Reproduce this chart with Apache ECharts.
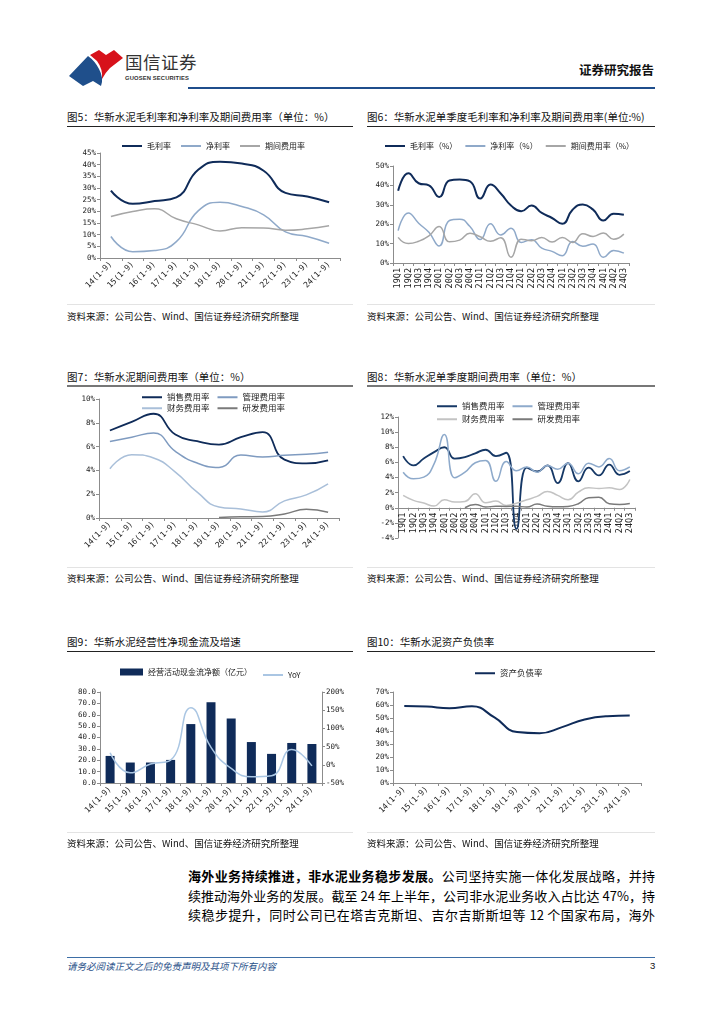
<!DOCTYPE html>
<html><head><meta charset="utf-8">
<script src="https://cdn.jsdelivr.net/npm/echarts@6/dist/echarts.min.js"></script>
<style>
body{margin:0;background:#fff;font-family:"Noto Sans CJK SC","Liberation Sans",sans-serif;}
#page{position:relative;width:724px;height:1024px;overflow:hidden;background:#fff;}
.abs{position:absolute;}
.title{font-size:10.5px;color:#111;white-space:nowrap;line-height:14px;}
.uline{height:1px;background:#222;}
.uline2{height:1.5px;background:#777;}
.sep{height:1px;background:#e3e3e3;}
.src{font-size:9.5px;color:#111;white-space:nowrap;line-height:12px;font-family:"Noto Sans CJK SC","Liberation Sans",sans-serif;}
.ch{position:absolute;}
.body{font-size:13px;line-height:19.5px;color:#000;width:467px;}
.body div{text-align:justify;text-align-last:justify;white-space:nowrap;}
</style>
</head><body>
<div id="page">
  <svg class="abs" style="left:0;top:0" width="200" height="95">
    <path d="M69,76 L88,56 Q95,61 99,69 Q104,78 101,86 L93,81 L83,86 Z" fill="#1f4f8b"/>
    <path d="M90,55 L99,50 L106,55 L114,50 L123,58 L110,68 Q105,73 102,79 Q103,69 97,61 Z" fill="#d7121b"/>
  </svg>
  <div class="abs" style="left:125px;top:51px;font-size:17.5px;color:#333;letter-spacing:0.5px;line-height:22px;">国信证券</div>
  <div class="abs" style="left:125px;top:75px;font-size:5.8px;color:#333;font-weight:bold;font-family:'Liberation Sans',sans-serif;line-height:7px;letter-spacing:0.15px;">GUOSEN SECURITIES</div>
  <div class="abs" style="left:579px;top:62px;font-size:12.5px;font-weight:bold;color:#111;line-height:16px;">证券研究报告</div>
  <div class="abs" style="left:188px;top:87px;width:467px;height:2px;background:#1f4e8c"></div>

  <div class="abs title" style="left:67px;top:110px;">图5：华新水泥毛利率和净利率及期间费用率（单位：%）</div>
  <div class="abs uline" style="left:67px;top:125.5px;width:286px;"></div>
  <div class="abs title" style="left:367px;top:110px;">图6：华新水泥单季度毛利率和净利率及期间费用率(单位:%)</div>
  <div class="abs uline" style="left:367px;top:125.5px;width:288px;"></div>
  <div id="c5" class="ch" style="left:62px;top:130px;width:295px;height:172px;"></div>
  <div id="c6" class="ch" style="left:362px;top:130px;width:300px;height:172px;"></div>
  <div class="abs sep" style="left:67px;top:304px;width:286px;"></div>
  <div class="abs sep" style="left:367px;top:304px;width:288px;"></div>
  <div class="abs src" style="left:67px;top:310px;">资料来源：公司公告、Wind、国信证券经济研究所整理</div>
  <div class="abs src" style="left:367px;top:310px;">资料来源：公司公告、Wind、国信证券经济研究所整理</div>

  <div class="abs title" style="left:67px;top:370px;">图7：华新水泥期间费用率（单位：%）</div>
  <div class="abs uline2" style="left:67px;top:385px;width:286px;"></div>
  <div class="abs title" style="left:367px;top:370px;">图8：华新水泥单季度期间费用率（单位：%）</div>
  <div class="abs uline2" style="left:367px;top:385px;width:288px;"></div>
  <div id="c7" class="ch" style="left:62px;top:390px;width:295px;height:175px;"></div>
  <div id="c8" class="ch" style="left:362px;top:390px;width:300px;height:175px;"></div>
  <div class="abs sep" style="left:67px;top:567px;width:286px;"></div>
  <div class="abs sep" style="left:367px;top:567px;width:288px;"></div>
  <div class="abs src" style="left:67px;top:572px;">资料来源：公司公告、Wind、国信证券经济研究所整理</div>
  <div class="abs src" style="left:367px;top:572px;">资料来源：公司公告、Wind、国信证券经济研究所整理</div>

  <div class="abs title" style="left:67px;top:635px;">图9：华新水泥经营性净现金流及增速</div>
  <div class="abs uline" style="left:67px;top:650.5px;width:286px;"></div>
  <div class="abs title" style="left:367px;top:635px;">图10：华新水泥资产负债率</div>
  <div class="abs uline" style="left:367px;top:650.5px;width:288px;"></div>
  <div id="c9" class="ch" style="left:62px;top:655px;width:295px;height:178px;"></div>
  <div id="c10" class="ch" style="left:362px;top:655px;width:300px;height:178px;"></div>
  <div class="abs sep" style="left:67px;top:832px;width:286px;"></div>
  <div class="abs sep" style="left:367px;top:832px;width:288px;"></div>
  <div class="abs src" style="left:67px;top:837px;">资料来源：公司公告、Wind、国信证券经济研究所整理</div>
  <div class="abs src" style="left:367px;top:837px;">资料来源：公司公告、Wind、国信证券经济研究所整理</div>

  <div class="abs body" style="left:188px;top:866px;">
    <div><b>海外业务持续推进，非水泥业务稳步发展。</b>公司坚持实施一体化发展战略，并持</div>
    <div>续推动海外业务的发展。截至 24 年上半年，公司非水泥业务收入占比达 47%，持</div>
    <div>续稳步提升，同时公司已在塔吉克斯坦、吉尔吉斯斯坦等 12 个国家布局，海外</div>
  </div>

  <div class="abs" style="left:67px;top:957px;width:588px;height:1px;background:#3d6ea6;"></div>
  <div class="abs" style="left:67px;top:960px;font-size:9.5px;font-style:italic;color:#2a5189;line-height:12px;">请务必阅读正文之后的免责声明及其项下所有内容</div>
  <div class="abs" style="left:650px;top:960px;font-size:9.5px;color:#111;line-height:12px;font-family:'Liberation Sans',sans-serif;">3</div>
</div>
<script>
// ---------- data ----------
const years = ['14(1-9)','15(1-9)','16(1-9)','17(1-9)','18(1-9)','19(1-9)','20(1-9)','21(1-9)','22(1-9)','23(1-9)','24(1-9)'];
const quarters = ['19Q1','19Q2','19Q3','19Q4','20Q1','20Q2','20Q3','20Q4','21Q1','21Q2','21Q3','21Q4','22Q1','22Q2','22Q3','22Q4','23Q1','23Q2','23Q3','23Q4','24Q1','24Q2','24Q3'];

// Fig 5
const gross5 = [28.9, 23.2, 24.4, 26.0, 37.8, 41.3, 40.5, 37.4, 27.9, 26.4, 23.9];
const net5   = [9.2, 2.7, 3.2, 7.0, 20.2, 23.9, 22.1, 18.5, 11.2, 9.2, 6.3];
const fee5   = [17.8, 19.9, 21.1, 16.8, 14.2, 11.6, 13.0, 12.9, 11.9, 12.5, 13.8];

// Fig 6
const gross6 = [37.2, 46.3, 41.1, 40.0, 34.0, 42.5, 43.0, 42.1, 33.2, 40.4, 35.8, 29.6, 26.7, 29.6, 25.8, 23.2, 20.2, 27.5, 30.2, 27.5, 21.9, 25.4, 24.9];
const net6   = [16.7, 25.8, 20.5, 15.8, 8.8, 21.9, 22.6, 18.8, 12.1, 20.2, 14.4, 17.9, 10.6, 12.0, 7.7, 6.0, 3.8, 11.1, 8.6, 9.8, 2.9, 6.5, 5.1];
const fee6   = [13.2, 10.0, 11.2, 14.0, 18.8, 10.9, 11.8, 15.3, 13.5, 11.2, 13.0, 3.0, 12.3, 11.5, 13.2, 10.8, 13.2, 10.6, 15.1, 13.7, 15.4, 12.3, 14.9];

// Fig 7
const sales7 = [7.35, 8.08, 8.76, 7.01, 6.45, 6.17, 6.79, 7.21, 4.9, 4.59, 4.85];
const admin7 = [6.42, 6.79, 7.15, 5.6, 4.62, 4.25, 5.3, 5.13, 5.27, 5.35, 5.52];
const fin7   = [4.14, 5.32, 5.04, 3.86, 2.17, 0.93, 0.76, 0.51, 1.44, 1.94, 2.87];
const rd7    = [null, null, null, null, null, 0.05, 0.1, 0.12, 0.34, 0.73, 0.48];

// Fig 8
const sales8 = [6.83, 5.6, 6.5, 7.36, 8.0, 6.5, 6.7, 7.2, 7.67, 6.83, 7.27, -2.8, 5.3, 4.8, 5.6, 3.26, 5.9, 3.5, 5.3, 4.27, 5.7, 4.36, 4.85];
const admin8 = [4.7, 3.83, 4.05, 5.8, 9.7, 3.96, 4.7, 5.95, 6.26, 3.5, 6.1, 4.9, 5.4, 4.7, 5.6, 5.1, 5.9, 4.5, 5.9, 5.4, 6.5, 4.9, 5.4];
const fin8   = [1.63, 0.97, 0.62, 0.22, 1.06, 0.75, 0.84, 1.85, 0.66, 0.88, 0.31, 0.6, 1.06, 1.5, 2.16, 1.63, 1.06, 2.07, 2.64, 2.55, 2.64, 2.42, 3.74];
const rd8    = [null, null, null, null, null, null, 0.0, 0.44, 0.1, 0.2, 0.18, 0.2, 0.1, 0.48, 0.2, 0.13, 0.18, 0.53, 1.32, 1.4, 0.53, 0.44, 0.57];

// Fig 9
const cash9 = [23.8, 18.0, 18.0, 20.3, 51.8, 71.0, 56.7, 36.0, 25.6, 35.2, 34.3];
const yoy9  = [33, -22, 2, 13, 157, 48, -10, -33, -30, 42, -3];

// Fig 10
const debt10 = [59.3, 58.8, 57.5, 59.0, 50.4, 39.2, 38.3, 43.0, 48.9, 51.4, 51.9];

// ---------- helpers ----------
const MONO = '"DejaVu Sans Mono","Liberation Mono",monospace';
const CJK = '"Noto Sans CJK SC","Liberation Sans",sans-serif';
const AX = '#8c8c8c';
const NAVY = '#0f2b59';
function xCat(data, rotate, size, extra) {
  return Object.assign({
    type: 'category', data: data, boundaryGap: true,
    axisLine: { onZero: true, lineStyle: { color: AX, width: 1 } },
    axisTick: { show: true, length: 3, lineStyle: { color: AX } },
    axisLabel: { interval: 0, rotate: rotate, fontSize: size, color: '#222', margin: 5, fontFamily: MONO }
  }, extra || {});
}
function yVal(min, max, interval, fmt, extra) {
  return Object.assign({
    type: 'value', min: min, max: max, interval: interval,
    axisLine: { show: true, lineStyle: { color: AX, width: 1 } },
    axisTick: { show: true, length: 3, lineStyle: { color: AX } },
    splitLine: { show: false },
    axisLabel: { fontSize: 7.5, color: '#222', margin: 4, formatter: fmt, fontFamily: MONO }
  }, extra || {});
}
function ln(name, data, color, width, extra) {
  return Object.assign({
    type: 'line', name: name, data: data, smooth: true, symbol: 'none',
    lineStyle: { color: color, width: width }, itemStyle: { color: color }
  }, extra || {});
}
function lg(data, left, top, extra) {
  return Object.assign({
    data: data, left: left, top: top, padding: 0, icon: 'rect', itemWidth: 20, itemHeight: 2, itemGap: 10,
    textStyle: { fontSize: 8, color: '#222', fontFamily: CJK }
  }, extra || {});
}
function mk(id, opt) {
  const c = echarts.init(document.getElementById(id), null, { renderer: 'canvas' });
  opt.animation = false;
  opt.textStyle = { fontFamily: CJK };
  c.setOption(opt);
}
const pct = '{value}%';
const lgText = { fontSize: 8.5, color: '#222', fontFamily: CJK };

// Fig 5
mk('c5', {
  legend: lg(['毛利率', '净利率', '期间费用率'], 60, 12),
  grid: { left: 38, top: 23, width: 240, height: 105 },
  xAxis: xCat(years, 45, 8),
  yAxis: yVal(0, 45, 5, pct),
  series: [
    ln('毛利率', gross5, NAVY, 2),
    ln('净利率', net5, '#8fa9c9', 1.5),
    ln('期间费用率', fee5, '#a6a6a6', 1.5)
  ]
});

// Fig 6
mk('c6', {
  legend: lg(['毛利率（%）', '净利率（%）', '期间费用率（%）'], 23, 12, { itemGap: 8 }),
  grid: { left: 31, top: 36, width: 236, height: 97 },
  xAxis: xCat(quarters, 90, 8.5),
  yAxis: yVal(0, 50, 10, pct),
  series: [
    ln('毛利率（%）', gross6, NAVY, 2),
    ln('净利率（%）', net6, '#8fa9c9', 1.5),
    ln('期间费用率（%）', fee6, '#a6a6a6', 1.5)
  ]
});

// Fig 7
mk('c7', {
  legend: [
    lg(['销售费用率', '管理费用率'], 80, 3, { itemGap: 8, textStyle: lgText }),
    lg(['财务费用率', '研发费用率'], 80, 14, { itemGap: 8, textStyle: lgText })
  ],
  grid: { left: 37, top: 9, width: 240, height: 119 },
  xAxis: xCat(years, 45, 8),
  yAxis: yVal(0, 10, 2, pct),
  series: [
    ln('销售费用率', sales7, NAVY, 1.8),
    ln('管理费用率', admin7, '#7f9bc0', 1.5),
    ln('财务费用率', fin7, '#a9bfd9', 1.5),
    ln('研发费用率', rd7, '#7a7a7a', 1.5)
  ]
});

// Fig 8 : x axis sits on the 0% line (grid height 121 spans -4..12 => 0 is 121*4/16 above bottom)
const grid8H = 121;
mk('c8', {
  legend: [
    lg(['销售费用率', '管理费用率'], 75, 12, { itemGap: 8, textStyle: lgText }),
    lg(['财务费用率', '研发费用率'], 75, 25, { itemGap: 8, textStyle: lgText })
  ],
  grid: { left: 36, top: 27, width: 237, height: grid8H },
  xAxis: xCat(quarters, 90, 8.5, {
    offset: -grid8H * 4 / 16,
    axisLine: { onZero: false, lineStyle: { color: AX, width: 1 } }
  }),
  yAxis: yVal(-4, 12, 2, pct),
  series: [
    ln('销售费用率', sales8, '#163866', 1.8),
    ln('管理费用率', admin8, '#8eaacb', 1.5),
    ln('财务费用率', fin8, '#c3c3c3', 1.5),
    ln('研发费用率', rd8, '#7a7a7a', 1.5)
  ]
});

// Fig 9
mk('c9', {
  legend: [
    { data: ['经营活动现金流净额（亿元）'], left: 58, top: 13, padding: 0, icon: 'rect', itemWidth: 23, itemHeight: 7,
      textStyle: { fontSize: 8, color: '#222', fontFamily: CJK } },
    lg(['YoY'], 201, 16)
  ],
  grid: { left: 38, top: 37, width: 222, height: 91 },
  xAxis: xCat(years, 45, 8),
  yAxis: [
    yVal(0, 80, 10, function (v) { return v.toFixed(1); }),
    yVal(-50, 200, 50, pct, { position: 'right' })
  ],
  series: [
    { type: 'bar', name: '经营活动现金流净额（亿元）', data: cash9, barWidth: 9, itemStyle: { color: NAVY } },
    ln('YoY', yoy9, '#aac6e3', 1.5, { yAxisIndex: 1 })
  ]
});

// Fig 10
mk('c10', {
  legend: lg(['资产负债率'], 113, 14, { textStyle: lgText }),
  grid: { left: 31, top: 37, width: 248, height: 91 },
  xAxis: xCat(years, 45, 8),
  yAxis: yVal(0, 70, 10, pct),
  series: [ ln('资产负债率', debt10, NAVY, 2) ]
});
</script>
</body></html>
